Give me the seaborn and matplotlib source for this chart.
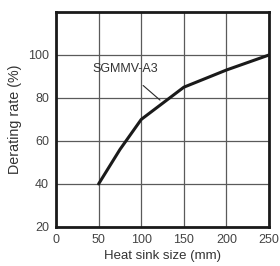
import matplotlib
matplotlib.use("Agg")
import matplotlib.pyplot as plt
import seaborn as sns
import pandas as pd

# data
heat_sink_mm = [50, 75, 100, 150, 200, 250]
derating_pct = [40, 56, 70, 85, 93, 100]
x_ticks = [0, 50, 100, 150, 200, 250]
y_ticks = [20, 40, 60, 80, 100]
series_label = "SGMMV-A3"

sns.set_theme(style="white")
plt.rcParams['font.family'] = ['Liberation Sans', 'DejaVu Sans']

df = pd.DataFrame({'size': heat_sink_mm, 'rate': derating_pct})

fig = plt.figure(figsize=(2.8, 2.66), dpi=100)
ax = fig.add_axes([0.2, 0.147, 0.761, 0.808])

sns.lineplot(x='size', y='rate', data=df, color='#1a1a1a', linewidth=2.2, ax=ax)

ax.set_xlim(0, 250)
ax.set_ylim(20, 120)
ax.set_xticks(x_ticks)
ax.set_yticks(y_ticks)
ax.grid(True, color='#5a5a5a', linewidth=0.9)
ax.tick_params(axis='both', length=0, labelsize=9, colors='#444444')
ax.tick_params(axis='x', pad=5)
ax.tick_params(axis='y', pad=5)
for s in ax.spines.values():
    s.set_color('#1a1a1a')
    s.set_linewidth(2.0)

ax.set_xlabel('Heat sink size (mm)', fontsize=9.5, color='#333333', labelpad=3)
ax.set_ylabel('Derating rate (%)', fontsize=10.3, color='#333333', labelpad=4)

# callout
ax.annotate(series_label, xy=(122, 79), xytext=(81, 93.5), fontsize=9,
            color='#333333', ha='center', va='center',
            arrowprops=dict(arrowstyle='-', color='#2a2a2a', lw=0.8,
                            relpos=(0.59, 0.0), shrinkA=8, shrinkB=0))

fig.savefig('out.png', dpi=100)
